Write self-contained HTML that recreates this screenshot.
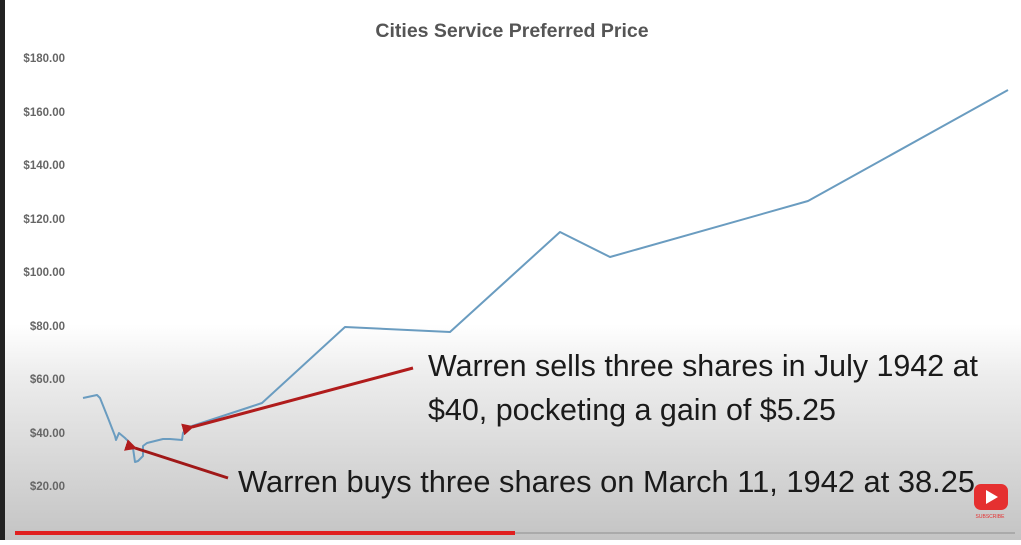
<!DOCTYPE html>
<html><head><meta charset="utf-8"><style>
body{margin:0;width:1021px;height:540px;overflow:hidden;font-family:"Liberation Sans",sans-serif}
</style></head><body>
<svg width="1021" height="540" xmlns="http://www.w3.org/2000/svg">
<defs><linearGradient id="g" x1="0" y1="0" x2="0" y2="1">
<stop offset="0" stop-color="#ffffff"/><stop offset="0.6" stop-color="#ffffff"/><stop offset="0.7" stop-color="#ececec"/><stop offset="1" stop-color="#c4c4c4"/></linearGradient>
<marker id="ah" viewBox="0 0 10 10" refX="2" refY="5" markerWidth="4" markerHeight="4" orient="auto-start-reverse"><path d="M0,5 L10,0 L10,10z" fill="#b01c1c"/></marker></defs>
<rect width="1021" height="540" fill="url(#g)"/>
<rect x="0" y="0" width="5" height="540" fill="#222"/>
<text x="512" y="37" text-anchor="middle" font-size="19.5" font-weight="bold" fill="#555">Cities Service Preferred Price</text>
<g font-size="11.5" font-weight="bold" fill="#666" text-anchor="end">
<text x="65" y="62">$180.00</text><text x="65" y="116">$160.00</text><text x="65" y="169">$140.00</text>
<text x="65" y="223">$120.00</text><text x="65" y="276">$100.00</text><text x="65" y="330">$80.00</text>
<text x="65" y="383">$60.00</text><text x="65" y="437">$40.00</text><text x="65" y="490">$20.00</text></g>
<polyline fill="none" stroke="#6a9cc0" stroke-width="2" stroke-linejoin="round" points="83,398 97,395 100,398 108,418 115,436 116,440 119,433 125,438 130,443 133,448 135,462 138,461 143,456 143,446 147,443 155,441 163,439 170,439 182,440 183,433 186,428 250,407 262,403 345,327 450,332 560,232 610,257 808,201 1008,90"/>
<line x1="413" y1="368" x2="192" y2="427" stroke="#b01c1c" stroke-width="3" marker-end="url(#ah)"/>
<line x1="228" y1="478" x2="135" y2="448" stroke="#a01818" stroke-width="3" marker-end="url(#ah)"/>
<g font-size="30.5" fill="#1a1a1a">
<text x="428" y="376" textLength="550" lengthAdjust="spacingAndGlyphs">Warren sells three shares in July 1942 at</text>
<text x="428" y="420" textLength="408" lengthAdjust="spacingAndGlyphs">$40, pocketing a gain of $5.25</text>
<text x="238" y="492" textLength="737" lengthAdjust="spacingAndGlyphs">Warren buys three shares on March 11, 1942 at 38.25</text></g>
<rect x="974" y="484" width="34" height="26" rx="7" fill="#e53030"/>
<path d="M986,490 L998,497 L986,504z" fill="#fff"/>
<text x="990" y="518" font-size="5" fill="#e53030" text-anchor="middle">SUBSCRIBE</text>
<rect x="15" y="531" width="500" height="4" fill="#e02020"/>
<rect x="515" y="532" width="500" height="2" fill="#aaa"/>
</svg>
</body></html>
